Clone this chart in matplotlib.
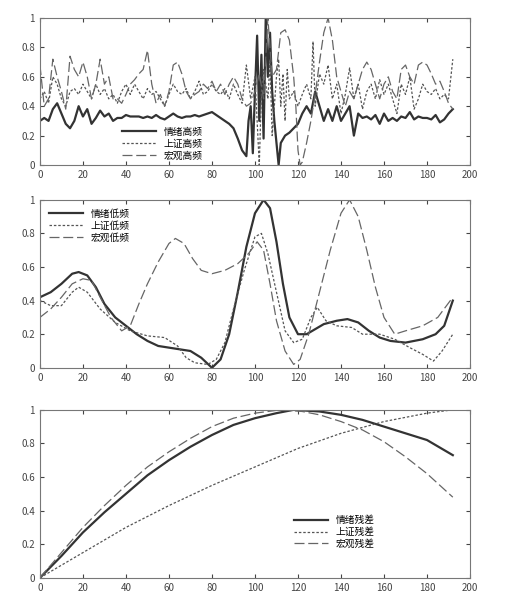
import matplotlib
matplotlib.use("Agg")
import matplotlib.pyplot as plt

plt.rcParams['font.family'] = ['Noto Sans CJK SC', 'DejaVu Sans']

# --- top panel: high frequency ---
emo_hi_x = list(range(0, 96, 2)) + list(range(96, 113)) + list(range(114, 193, 2))
emo_hi_y = [0.30,0.32,0.30,0.38,0.42,0.35,0.28,0.25,0.30,0.40,0.33,0.38,0.28,0.32,0.37,0.33,
            0.35,0.30,0.32,0.32,0.34,0.33,0.33,0.33,0.32,0.33,0.32,0.34,0.32,0.31,0.33,0.35,
            0.33,0.32,0.33,0.33,0.34,0.33,0.34,0.35,0.36,0.34,0.32,0.30,0.28,0.25,0.18,0.10,
            0.06,0.30,0.40,0.08,0.50,0.88,0.30,0.75,0.18,1.00,0.60,0.90,0.50,0.30,0.15,0.00,0.15,
            0.20,0.22,0.25,0.28,0.35,0.40,0.35,0.50,0.40,0.30,0.38,0.30,0.40,0.30,0.35,0.40,
            0.20,0.35,0.32,0.33,0.31,0.34,0.28,0.35,0.30,0.32,0.30,0.33,0.32,0.36,0.31,0.33,
            0.32,0.32,0.31,0.34,0.29,0.31,0.35,0.38]

sz_hi_x = list(range(0, 100, 2)) + [100,101,102,103,104,106,107,108,110,111,112,113,114,115,116] \
          + list(range(118, 127, 2)) + [127] + list(range(128, 193, 2))
sz_hi_y = [0.45,0.50,0.42,0.60,0.55,0.45,0.40,0.50,0.52,0.48,0.55,0.50,0.45,0.55,0.48,0.52,
           0.45,0.48,0.42,0.50,0.55,0.48,0.55,0.50,0.45,0.52,0.48,0.50,0.45,0.40,0.48,0.55,
           0.50,0.48,0.52,0.45,0.50,0.57,0.48,0.50,0.55,0.50,0.48,0.52,0.45,0.55,0.48,0.42,
           0.68,0.45,
           0.60,0.30,0.00,0.50,0.65,0.45,0.70,0.20,0.60,0.72,0.40,0.62,0.30,0.65,0.45,
           0.50,0.40,0.48,0.55,0.45,0.84,
           0.40,0.62,0.55,0.68,0.45,0.55,0.35,0.48,0.66,0.45,0.55,0.38,0.50,0.55,0.45,0.58,
           0.48,0.55,0.45,0.35,0.55,0.48,0.60,0.38,0.45,0.55,0.50,0.48,0.52,0.45,0.48,0.45,0.72]

mac_hi_x = list(range(0, 119, 2)) + [119,120,121,122] + list(range(124, 193, 2))
mac_hi_y = [0.68,0.40,0.45,0.72,0.60,0.50,0.38,0.74,0.65,0.60,0.70,0.60,0.45,0.55,0.72,0.55,
            0.60,0.45,0.45,0.42,0.48,0.55,0.58,0.62,0.65,0.78,0.55,0.42,0.48,0.40,0.50,0.68,
            0.70,0.62,0.50,0.45,0.48,0.50,0.55,0.52,0.57,0.50,0.55,0.48,0.55,0.60,0.55,0.45,
            0.40,0.42,0.50,0.62,0.45,1.00,0.60,0.65,0.90,0.92,0.85,0.60,
            0.40,0.10,0.00,0.02,
            0.15,0.30,0.48,0.70,0.90,1.00,0.85,0.60,0.50,0.40,0.50,0.45,0.55,0.65,0.70,0.65,
            0.55,0.45,0.55,0.60,0.50,0.45,0.65,0.68,0.60,0.55,0.68,0.70,0.68,0.62,0.55,0.57,
            0.50,0.42,0.38]

# --- middle panel: low frequency ---
emo_lo_x = [0,5,10,15,18,22,26,30,35,40,45,50,55,60,65,70,75,80,84,88,92,96,100,104,107,110,
            113,116,120,124,128,132,138,143,148,153,158,163,170,178,184,188,192]
emo_lo_y = [0.42,0.45,0.50,0.56,0.57,0.55,0.48,0.38,0.30,0.25,0.20,0.16,0.13,0.12,0.11,0.10,
            0.06,0.00,0.05,0.20,0.45,0.72,0.92,1.00,0.95,0.75,0.50,0.30,0.20,0.20,0.23,0.26,
            0.28,0.29,0.27,0.22,0.18,0.16,0.15,0.17,0.20,0.25,0.40]
sz_lo_x = [0,5,10,15,18,22,28,35,42,50,58,64,68,72,78,82,86,90,95,100,103,106,110,114,118,122,
           126,129,133,138,145,150,158,165,172,178,183,187,192]
sz_lo_y = [0.40,0.37,0.37,0.45,0.48,0.45,0.35,0.27,0.22,0.19,0.18,0.13,0.06,0.03,0.02,0.05,
           0.15,0.35,0.58,0.78,0.80,0.68,0.45,0.22,0.15,0.17,0.30,0.36,0.28,0.25,0.24,0.20,
           0.20,0.17,0.12,0.08,0.04,0.10,0.20]
mac_lo_x = [0,5,10,15,20,24,28,33,38,42,46,50,55,60,63,67,71,75,80,86,92,97,101,104,107,110,
            114,118,121,125,130,135,140,144,148,152,156,160,165,170,178,185,192]
mac_lo_y = [0.30,0.35,0.42,0.50,0.53,0.52,0.42,0.30,0.22,0.25,0.38,0.50,0.63,0.74,0.77,0.74,
            0.65,0.58,0.56,0.58,0.62,0.68,0.75,0.70,0.50,0.28,0.10,0.02,0.05,0.20,0.45,0.70,
            0.92,1.00,0.90,0.70,0.48,0.30,0.20,0.22,0.25,0.30,0.42]

# --- bottom panel: residual ---
emo_re_x = [0,10,20,30,40,50,60,70,80,90,100,110,118,130,140,150,160,170,180,192]
emo_re_y = [0,0.13,0.27,0.39,0.50,0.61,0.70,0.78,0.85,0.91,0.95,0.98,1.00,0.99,0.97,0.94,
            0.90,0.86,0.82,0.73]
sz_re_x = [0,20,40,60,80,100,120,140,160,180,192]
sz_re_y = [0,0.15,0.30,0.43,0.55,0.66,0.77,0.86,0.93,0.98,1.00]
mac_re_x = [0,10,20,30,40,50,60,70,80,90,100,112,122,130,140,150,160,170,180,192]
mac_re_y = [0,0.15,0.30,0.43,0.55,0.66,0.75,0.83,0.90,0.95,0.98,1.00,0.99,0.97,0.93,0.88,
            0.81,0.72,0.62,0.48]

xticks = list(range(0, 201, 20))
yticks = [0, 0.2, 0.4, 0.6, 0.8, 1]
ytick_labels = ['0', '0.2', '0.4', '0.6', '0.8', '1']

fig = plt.figure(figsize=(5.12, 6.0), dpi=100)
positions = [[0.078, 0.725, 0.84, 0.245], [0.078, 0.387, 0.84, 0.28], [0.078, 0.037, 0.84, 0.28]]
panels = [
    ((emo_hi_x, emo_hi_y), (sz_hi_x, sz_hi_y), (mac_hi_x, mac_hi_y), ['情绪高频', '上证高频', '宏观高频'],
     dict(loc='lower left', bbox_to_anchor=(0.17, -0.03))),
    ((emo_lo_x, emo_lo_y), (sz_lo_x, sz_lo_y), (mac_lo_x, mac_lo_y), ['情绪低频', '上证低频', '宏观低频'],
     dict(loc='upper left')),
    ((emo_re_x, emo_re_y), (sz_re_x, sz_re_y), (mac_re_x, mac_re_y), ['情绪残差', '上证残差', '宏观残差'],
     dict(loc='lower left', bbox_to_anchor=(0.57, 0.12))),
]
for pos, (e, s, m, labels, lkw) in zip(positions, panels):
    ax = fig.add_axes(pos)
    ax.plot(e[0], e[1], color='#333333', lw=1.6, label=labels[0])
    ax.plot(s[0], s[1], color='#555555', lw=0.9, ls=(0, (2, 1.5)), label=labels[1])
    ax.plot(m[0], m[1], color='#666666', lw=0.9, ls=(0, (8, 3)), label=labels[2])
    ax.set_xlim(0, 200)
    ax.set_ylim(0, 1)
    ax.set_xticks(xticks)
    ax.set_yticks(yticks)
    ax.set_yticklabels(ytick_labels)
    ax.tick_params(direction='in', top=True, right=True, labelsize=7, length=3, colors='#444444')
    for sp in ax.spines.values():
        sp.set_color('#777777')
        sp.set_linewidth(0.8)
    ax.legend(frameon=False, fontsize=7, handlelength=3.5, labelspacing=0.2, **lkw)

fig.savefig('out.png', dpi=100)
